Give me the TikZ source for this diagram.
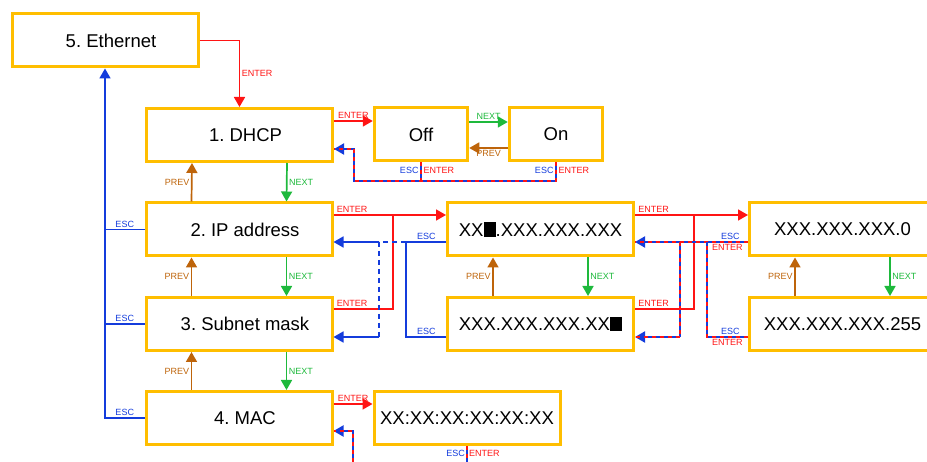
\documentclass[tikz,border=0pt]{standalone}
\usepackage{fontspec}
\setmainfont{Liberation Sans}
\usepackage{tikz}
\usetikzlibrary{arrows.meta, positioning, calc}
\definecolor{boxline}{RGB}{255, 190, 0}
\definecolor{enterred}{RGB}{255, 20, 20}
\definecolor{escblue}{RGB}{20, 60, 220}
\definecolor{nextgreen}{RGB}{30, 185, 60}
\definecolor{prevbrown}{RGB}{190, 100, 10}
\newcommand{\curblk}{\rule[-0.4pt]{0.66em}{0.77em}}
\frenchspacing

\begin{document}
\begin{tikzpicture}[x=1pt, y=-1pt,
    box/.style={draw=boxline, line width=3pt, fill=white, minimum width=186pt, minimum height=53pt,
        inner sep=0pt, font=\fontsize{18.5}{20}\selectfont},
    menu/.style={box, execute at begin node={\hspace*{12pt}}},
    small/.style={box, minimum width=93.5pt},
    arr/.style={-{Triangle[length=10pt, width=11pt]}},
    goenter/.style={draw=enterred, line width=1.7pt},
    goesc/.style={draw=escblue, line width=1.7pt},
    gonext/.style={draw=nextgreen, line width=1.7pt},
    goprev/.style={draw=prevbrown, line width=1.7pt},
    backline/.style={draw=escblue, line width=2pt,
        postaction={draw=enterred, line width=2pt, dash pattern=on 4pt off 4pt, arrows=-}},
    lbl/.style={inner sep=1.5pt, font=\fontsize{9}{10}\selectfont},
    entertxt/.style={lbl, text=enterred},
    esctxt/.style={lbl, text=escblue},
    nexttxt/.style={lbl, text=nextgreen},
    prevtxt/.style={lbl, text=prevbrown}]

    \useasboundingbox (0,0) rectangle (927,462);

    % Menu column
    \node[menu] (eth) at (105, 40.5) {5. Ethernet};
    \node[menu] (dhcp) at (239.5, 135) {1. DHCP};
    \node[menu] (ip) at (239, 229.5) {2. IP address};
    \node[menu] (subnet) at (239, 324) {3. Subnet mask};
    \node[menu] (mac) at (239, 418) {4. MAC};

    % Value boxes
    \node[small] (off) at (421, 134.5) {Off};
    \node[small] (on) at (556, 134.5) {On};
    \node[box] (ipa) at (540.5, 229.5) {XX\curblk.XXX.XXX.XXX};
    \node[box] (ipb) at (540.5, 324) {XXX.XXX.XXX.XX\curblk};
    \node[box] (mask0) at (842.5, 229.5) {XXX.XXX.XXX.0};
    \node[box] (mask255) at (842.5, 324) {XXX.XXX.XXX.255};
    \node[box] (macval) at (467, 418) {XX:XX:XX:XX:XX:XX};

    % Bend points
    \coordinate (dhcpbk) at (354, 181);
    \coordinate (ipent) at (393, 215);
    \coordinate (ipesc) at (406, 242);
    \coordinate (subesc) at (379, 242);
    \coordinate (subret) at (379, 337);
    \coordinate (maskent) at (694, 215);
    \coordinate (maskbk) at (707, 242);
    \coordinate (ipbbk) at (680, 242);
    \coordinate (ipbret) at (680, 337);
    \coordinate (macbk) at (353, 470);
    \coordinate (macout) at (467, 470);

    % Ethernet
    \draw[goenter, arr] (eth.east) -| node[entertxt, pos=0.75, right] {ENTER} (dhcp.north);
    \draw[goesc, arr] (mac.west) -| node[esctxt, pos=0.25, above] {ESC} (eth.south);
    \draw[goesc] (ip.west) -- node[esctxt, above] {ESC} (ip.west -| eth.south);
    \draw[goesc] (subnet.west) -- node[esctxt, above] {ESC} (subnet.west -| eth.south);

    % PREV / NEXT
    \foreach \a/\b in {dhcp/ip, ip/subnet, subnet/mac, ipa/ipb, mask0/mask255} {
        \draw[goprev, arr] ([xshift=-47.5pt]\b.north) -- node[prevtxt, left] {PREV} ([xshift=-47.5pt]\a.south);
        \draw[gonext, arr] ([xshift=47.5pt]\a.south) -- node[nexttxt, right] {NEXT} ([xshift=47.5pt]\b.north);
    }

    % DHCP
    \draw[goenter, arr] ([yshift=14pt]dhcp.east) -- node[entertxt, above] {ENTER} ([yshift=14pt]dhcp.east -| off.west);
    \draw[gonext, arr] ([yshift=12.5pt]off.east) -- node[nexttxt, above] {NEXT} ([yshift=12.5pt]off.east -| on.west);
    \draw[goprev, arr] ([yshift=-13.5pt]on.west) -- node[prevtxt, below] {PREV} ([yshift=-13.5pt]on.west -| off.east);
    \draw[backline] (off.south) node[esctxt, below left, yshift=-2pt] {ESC} node[entertxt, below right, yshift=-2pt] {ENTER}
        -- (off.south |- dhcpbk);
    \draw[backline, arr] (on.south) node[esctxt, below left, yshift=-2pt] {ESC} node[entertxt, below right, yshift=-2pt] {ENTER}
        |- (dhcpbk) |- ([yshift=-14pt]dhcp.east);

    % IP address
    \draw[goenter, arr] ([yshift=14.5pt]ip.east) node[entertxt, above right, xshift=1pt] {ENTER}
        -- ([yshift=14.5pt]ip.east -| ipa.west);
    \draw[goenter] ([yshift=15pt]subnet.east) node[entertxt, above right, xshift=1pt] {ENTER} -| (ipent);
    \draw[goesc] ([yshift=-12.5pt]ipa.west) node[esctxt, above left, xshift=-8pt] {ESC} -- (ipesc);
    \draw[goesc, dash pattern=on 5pt off 4pt] (ipesc) -- (subesc);
    \draw[goesc, arr] (subesc) -- (subesc -| ip.east);
    \draw[goesc] ([yshift=-13pt]ipb.west) node[esctxt, above left, xshift=-8pt] {ESC} -| (ipesc);
    \draw[goesc, dash pattern=on 5pt off 4pt] (subesc) -- (subret);
    \draw[goesc, arr] (subret) -- (subret -| subnet.east);

    % Subnet mask
    \draw[goenter, arr] ([yshift=14.5pt]ipa.east) node[entertxt, above right, xshift=1pt] {ENTER}
        -- ([yshift=14.5pt]ipa.east -| mask0.west);
    \draw[goenter] ([yshift=15pt]ipb.east) node[entertxt, above right, xshift=1pt] {ENTER} -| (maskent);
    \draw[backline, arr] ([yshift=-12.5pt]mask0.west) node[esctxt, above left, xshift=-6pt] {ESC}
        node[entertxt, below left, xshift=-3pt] {ENTER} -- ([yshift=-12.5pt]mask0.west -| ipa.east);
    \draw[backline] ([yshift=-13pt]mask255.west) node[esctxt, above left, xshift=-6pt] {ESC}
        node[entertxt, below left, xshift=-3pt] {ENTER} -| (maskbk);
    \draw[backline] (ipbbk) -- (ipbret);
    \draw[backline, arr] (ipbret) -- (ipbret -| ipb.east);

    % MAC
    \draw[goenter, arr] ([yshift=14pt]mac.east) -- node[entertxt, above] {ENTER} ([yshift=14pt]mac.east -| macval.west);
    \draw[backline, arr] (macbk) |- ([yshift=-13pt]mac.east);
    \draw[backline, line width=1.4pt] (macval.south) node[esctxt, below left, yshift=-2pt] {ESC}
        node[entertxt, below right, yshift=-2pt] {ENTER} -- (macout);

\end{tikzpicture}
\end{document}
